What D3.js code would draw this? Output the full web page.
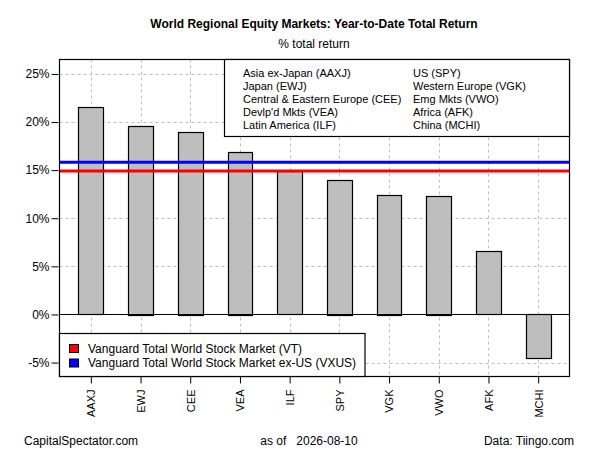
<!DOCTYPE html>
<html>
<head>
<meta charset="utf-8">
<script src="https://cdn.jsdelivr.net/npm/d3@7"></script>
<style>
body{margin:0;background:#fff;}
svg{display:block;font-family:"Liberation Sans",Arial,sans-serif;}
</style>
</head>
<body>
<div id="chart"></div>
<script>
const tickers = ["AAXJ","EWJ","CEE","VEA","ILF","SPY","VGK","VWO","AFK","MCHI"];
const returns = [21.55, 19.6, 19.0, 16.9, 14.9, 14.0, 12.45, 12.35, 6.55, -4.6];
const refNames = ["Vanguard Total World Stock Market (VT)","Vanguard Total World Stock Market ex-US (VXUS)"];
const refValues = [14.9, 15.83];
const refColors = ["#FF0000","#0000FF"];
const legendCol1 = ["Asia ex-Japan (AAXJ)","Japan (EWJ)","Central & Eastern Europe (CEE)","Devlp'd Mkts (VEA)","Latin America (ILF)"];
const legendCol2 = ["US (SPY)","Western Europe (VGK)","Emg Mkts (VWO)","Africa (AFK)","China (MCHI)"];
const yTicks = [-5, 0, 5, 10, 15, 20, 25];
const title = "World Regional Equity Markets: Year-to-Date Total Return";
const subtitle = "% total return";
const footLeft = "CapitalSpectator.com";
const footMid = "as of   2026-08-10";
const footRight = "Data: Tiingo.com";

const W = 600, H = 450;
const L = 59.5, R = 569.5, T = 59.5, B = 376.5;
const svg = d3.select("#chart").append("svg").attr("width", W).attr("height", H);

const n = tickers.length;
const x = d3.scaleLinear().domain([1 - 0.04*(2*n-1), 2*n + 0.04*(2*n-1)]).range([L, R]);
const y = d3.scaleLinear().domain([-6.45, 26.5]).range([B, T]);
const cx = i => x(1.5 + 2*i);

// grid
const g = svg.append("g");
g.selectAll("line.hg").data(yTicks).join("line")
  .attr("x1", L).attr("x2", R).attr("y1", d => Math.round(y(d))+0.5).attr("y2", d => Math.round(y(d))+0.5)
  .attr("stroke", "#c0c0c0").attr("stroke-dasharray", "3,3");
g.selectAll("line.vg").data(tickers).join("line")
  .attr("x1", (d,i) => Math.round(cx(i))+0.5).attr("x2", (d,i) => Math.round(cx(i))+0.5)
  .attr("y1", T).attr("y2", B)
  .attr("stroke", "#c0c0c0").attr("stroke-dasharray", "3,3");

// bars
svg.selectAll("rect.bar").data(returns).join("rect")
  .attr("x", (d,i) => Math.round(x(1 + 2*i))+0.5)
  .attr("width", (d,i) => Math.round(x(2 + 2*i)) - Math.round(x(1 + 2*i)))
  .attr("y", d => Math.round(y(Math.max(0, d)))+0.5)
  .attr("height", d => Math.round(Math.abs(y(d) - y(0))))
  .attr("fill", "#bebebe").attr("stroke", "#000").attr("stroke-width", 1.2);

// zero line
svg.append("line").attr("x1", L).attr("x2", R).attr("y1", Math.round(y(0))+0.5).attr("y2", Math.round(y(0))+0.5)
  .attr("stroke", "#000").attr("stroke-width", 1.2);

// reference lines
svg.selectAll("line.ref").data(refValues).join("line")
  .attr("x1", L).attr("x2", R).attr("y1", d => y(d)).attr("y2", d => y(d))
  .attr("stroke", (d,i) => refColors[i]).attr("stroke-width", 3);

// frame
svg.append("rect").attr("x", L).attr("y", T).attr("width", R-L).attr("height", B-T)
  .attr("fill", "none").attr("stroke", "#000").attr("stroke-width", 1.2);

// y axis
const yAxis = d3.axisLeft(y).tickValues(yTicks).tickFormat(d => d + "%").tickSize(7).tickSizeOuter(0);
const ya = svg.append("g").attr("transform", `translate(${L-1},0)`).call(yAxis);
ya.select(".domain").remove();
ya.selectAll("line").attr("stroke", "#000");
ya.selectAll("text").attr("font-size", 12).attr("fill", "#000").attr("x", -9)
  .attr("font-family", '"Liberation Sans",Arial,sans-serif');

// x axis
const xAxis = d3.axisBottom(x).tickValues(tickers.map((d,i) => 1.5 + 2*i)).tickFormat((d,i) => tickers[i]).tickSize(7).tickSizeOuter(0);
const xa = svg.append("g").attr("transform", `translate(0,${B})`).call(xAxis);
xa.select(".domain").remove();
xa.selectAll("line").attr("stroke", "#000");
xa.selectAll("text").attr("font-size", 11).attr("fill", "#000")
  .attr("font-family", '"Liberation Sans",Arial,sans-serif')
  .attr("transform", "rotate(-90)").attr("text-anchor", "end").attr("dy", "0.35em")
  .attr("x", -13).attr("y", 0);

// titles
svg.append("text").attr("x", 314).attr("y", 28).attr("text-anchor", "middle")
  .attr("font-size", 12).attr("font-weight", "bold").text(title);
svg.append("text").attr("x", 314).attr("y", 48).attr("text-anchor", "middle")
  .attr("font-size", 12).text(subtitle);

// top legend
svg.append("rect").attr("x", 224.5).attr("y", T).attr("width", R-224.5).attr("height", 136.5-T)
  .attr("fill", "#fff").attr("stroke", "#000").attr("stroke-width", 1.2);
const lg = svg.append("g").attr("font-size", 11);
lg.selectAll("text.c1").data(legendCol1).join("text")
  .attr("x", 243).attr("y", (d,i) => 73.5 + 13*i).attr("dy", "0.35em").text(d => d);
lg.selectAll("text.c2").data(legendCol2).join("text")
  .attr("x", 413).attr("y", (d,i) => 73.5 + 13*i).attr("dy", "0.35em").text(d => d);

// bottom legend
svg.append("rect").attr("x", L).attr("y", 333.5).attr("width", 365-L).attr("height", B-333.5)
  .attr("fill", "#fff").attr("stroke", "#000").attr("stroke-width", 1.2);
const bl = svg.append("g");
bl.selectAll("rect.sw").data(refNames).join("rect")
  .attr("x", 69.5).attr("y", (d,i) => 344.5 + 14.5*i).attr("width", 9).attr("height", 8)
  .attr("fill", (d,i) => refColors[i]).attr("stroke", "#000");
bl.selectAll("text").data(refNames).join("text")
  .attr("x", 88).attr("y", (d,i) => 348.5 + 14.5*i).attr("dy", "0.35em").attr("font-size", 12).text(d => d);

// footer
svg.append("text").attr("x", 24).attr("y", 445).attr("font-size", 12).text(footLeft);
svg.append("text").attr("x", 309).attr("y", 445).attr("text-anchor", "middle").attr("font-size", 12).attr("xml:space","preserve").style("white-space","pre").text(footMid);
svg.append("text").attr("x", 574).attr("y", 445).attr("text-anchor", "end").attr("font-size", 12).text(footRight);
</script>
</body>
</html>
